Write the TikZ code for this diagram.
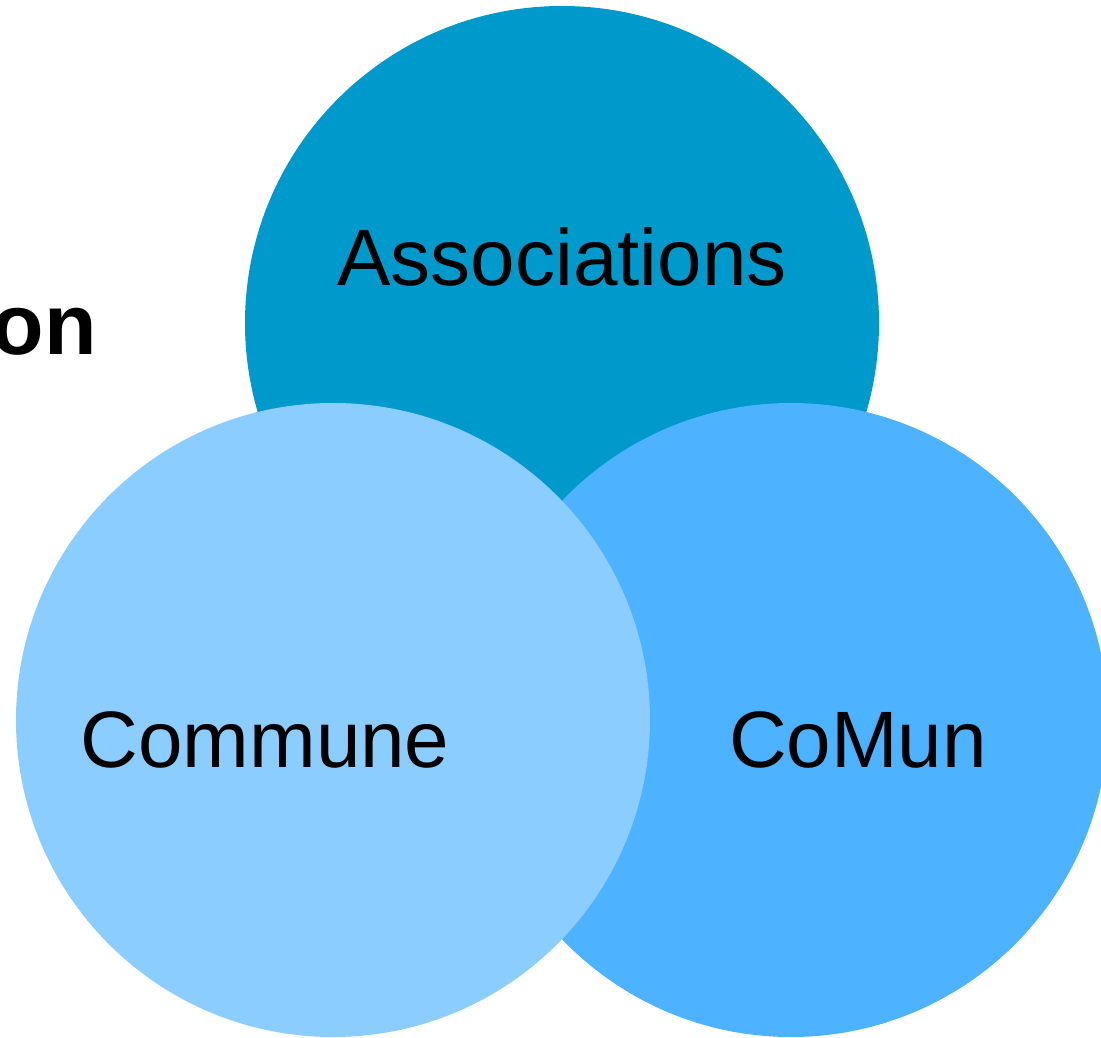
\documentclass[tikz,border=0pt]{standalone}
\usepackage{fontspec}
\setmainfont{Liberation Sans}
\definecolor{topc}{RGB}{0,153,204}
\definecolor{leftc}{RGB}{140,205,255}
\definecolor{rightc}{RGB}{77,178,255}
\begin{document}
\begin{tikzpicture}[x=1pt,y=-1pt,
  lbl/.style={font=\fontsize{80}{90}\selectfont, text=black, inner sep=0pt, anchor=base}]
\useasboundingbox (0,0) rectangle (1101,1038);
\clip (0,0) rectangle (1101,1038);
\fill[white] (0,0) rectangle (1101,1038);
\fill[topc] (562,323) circle[radius=317];
\fill[rightc] (791,720) circle[radius=317];
\fill[leftc] (333,720) circle[radius=317];
\node[lbl] (assoc) at (562,285) {Associations};
\node[lbl] (commune) at (265,767) {Commune};
\node[lbl] (comun) at (858,767) {CoMun};
\node[font=\fontsize{86}{90}\selectfont\bfseries, inner sep=0pt, anchor=base east] (on) at (97,354) {on};
\end{tikzpicture}
\end{document}
